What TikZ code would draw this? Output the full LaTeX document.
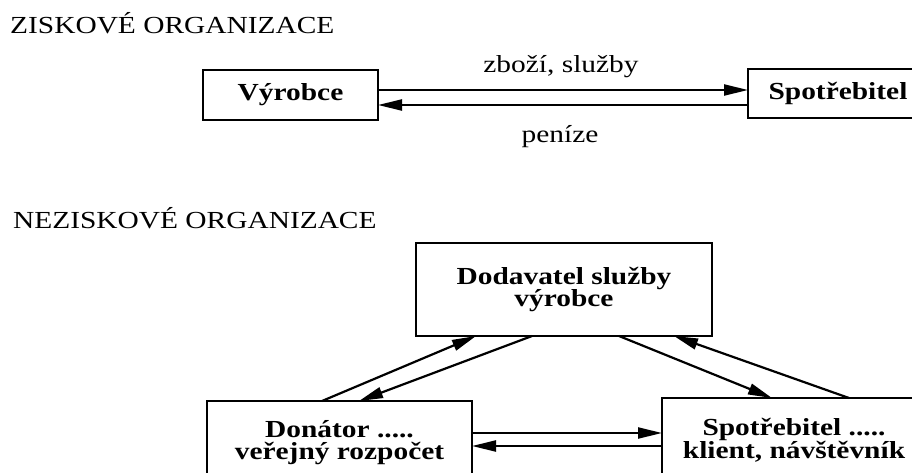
\documentclass[tikz,border=0pt]{standalone}
\usepackage{fontspec}
\setmainfont[FakeStretch=1.2]{Liberation Serif}
\usetikzlibrary{arrows.meta}
\tikzset{
 box/.style={draw, line width=2.6pt, inner sep=0pt, outer sep=0pt, font=\fontsize{24.5}{22.5}\selectfont\bfseries, align=center},
 conn/.style={line width=2.2pt, -{Triangle[length=24pt,width=11pt]}},
 lbl/.style={font=\fontsize{24.5}{24}\selectfont, inner sep=0pt, anchor=base}
}
\begin{document}
\begin{tikzpicture}[x=1pt,y=-1pt]
\useasboundingbox (0,0) rectangle (912,472);
\fill[white] (0,0) rectangle (912,472);
\clip (0,0) rectangle (912,472);
% titles
\node[lbl, anchor=base west] (t1) at (10,33) {ZISKOVÉ ORGANIZACE};
\node[lbl, anchor=base west] (t2) at (13,228) {NEZISKOVÉ ORGANIZACE};
% top section
\node[box, minimum width=175pt, minimum height=50pt] (vyr) at (290.5,95) {Výrobce};
\node[box, minimum width=180pt, minimum height=49pt] (spo1) at (838,93.5) {Spotřebitel};
\draw[conn] (vyr.east |- 0,90) -- (spo1.west |- 0,90);
\draw[conn] (spo1.west |- 0,105) -- (vyr.east |- 0,105);
\node[lbl] (zb) at (561,72) {zboží, služby};
\node[lbl] (pen) at (560,142) {peníze};
% bottom section
\node[box, minimum width=296pt, minimum height=93pt] (dod) at (564,289.5) {Dodavatel služby\\výrobce};
\node[box, minimum width=265pt, minimum height=83pt] (don) at (339.5,442.5) {Donátor .....\\veřejný rozpočet};
\node[box, minimum width=264pt, minimum height=84pt] (spo2) at (794,440) {Spotřebitel .....\\klient, návštěvník};
\draw[conn] (don.east |- 0,433) -- (spo2.west |- 0,433);
\draw[conn] (spo2.west |- 0,446) -- (don.east |- 0,446);
\draw[conn] (don.north -| 322,0) -- (dod.south -| 476,0);
\draw[conn] (dod.south -| 532,0) -- (don.north -| 359,0);
\draw[conn] (dod.south -| 619,0) -- (spo2.north -| 772,0);
\draw[conn] (spo2.north -| 849,0) -- (dod.south -| 674,0);
\end{tikzpicture}
\end{document}
